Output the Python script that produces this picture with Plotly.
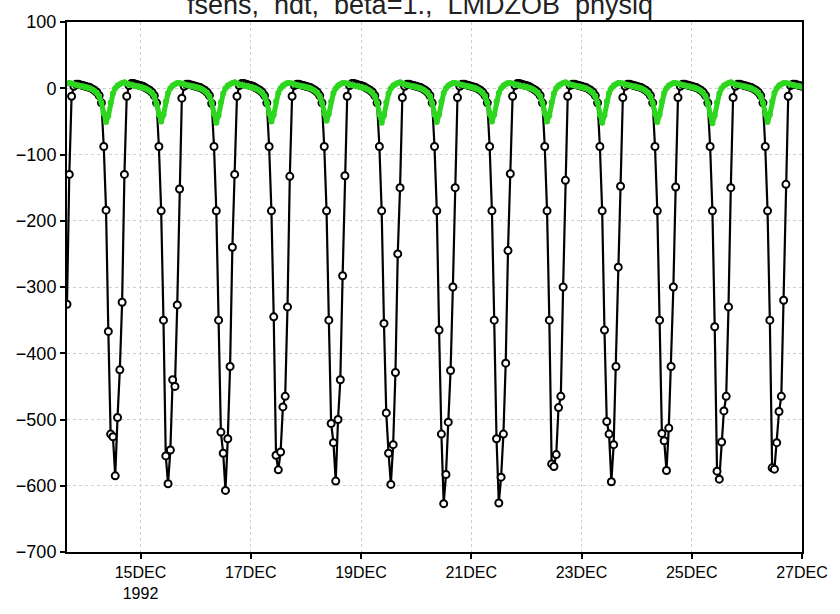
import pandas as pd
import plotly.graph_objects as go

# hourly samples, starting 13 DEC 1992 16:00 (UTC), ending 27 DEC 1992 00:00
start_time = "1992-12-13 16:00"

# black series (fsens, with circles) - rows are days, values for the listed hours
black_flux = [
    # 13 DEC 16h-23h
    -326, -130, -12, 3, 6, 6, 5, 4,
    # 14 DEC 00h-23h
    3, 2, 1, -1, -3, -6, -11, -22, -88, -184, -367, -522, -526, -585, -497, -425, -323, -130, -12, 4, 7, 7, 6, 5,
    # 15 DEC
    4, 3, 1, -1, -3, -6, -11, -22, -88, -185, -350, -555, -597, -546, -440, -450, -327, -152, -15, 3, 6, 6, 5, 4,
    # 16 DEC
    3, 2, 1, -1, -3, -6, -11, -23, -88, -185, -350, -519, -551, -607, -529, -420, -240, -130, -12, 4, 7, 7, 6, 5,
    # 17 DEC
    4, 3, 1, -1, -3, -6, -11, -22, -88, -185, -345, -554, -576, -549, -481, -465, -330, -133, -12, 4, 6, 6, 5, 4,
    # 18 DEC
    3, 2, 1, -1, -3, -6, -11, -22, -88, -185, -350, -506, -535, -593, -500, -440, -283, -132, -12, 4, 7, 7, 6, 5,
    # 19 DEC
    4, 3, 1, -1, -3, -6, -11, -22, -88, -185, -355, -490, -551, -598, -538, -429, -250, -150, -14, 3, 6, 6, 5, 4,
    # 20 DEC
    3, 2, 1, -1, -3, -6, -11, -22, -88, -185, -365, -522, -627, -583, -504, -426, -300, -150, -14, 3, 6, 6, 5, 4,
    # 21 DEC
    3, 2, 1, -1, -3, -6, -11, -22, -88, -185, -350, -529, -626, -587, -522, -415, -245, -129, -12, 4, 7, 7, 6, 5,
    # 22 DEC
    4, 3, 1, -1, -3, -6, -11, -22, -88, -185, -350, -567, -571, -553, -482, -465, -300, -139, -12, 4, 6, 6, 5, 4,
    # 23 DEC
    3, 2, 1, -1, -3, -6, -11, -22, -88, -185, -365, -503, -522, -594, -538, -420, -270, -148, -14, 3, 6, 6, 5, 4,
    # 24 DEC
    3, 2, 1, -1, -3, -6, -11, -22, -88, -185, -350, -521, -532, -577, -513, -420, -300, -149, -14, 3, 6, 6, 5, 4,
    # 25 DEC
    3, 2, 1, -1, -3, -6, -11, -22, -88, -185, -360, -578, -590, -534, -487, -465, -330, -150, -14, 3, 6, 6, 5, 4,
    # 26 DEC
    3, 2, 1, -1, -3, -6, -11, -22, -88, -185, -350, -573, -575, -535, -488, -465, -320, -145, -12, 4, 6, 6, 5, 4,
    # 27 DEC 00h
    3,
]

# green series (thick line, small dots)
green_flux = [
    # 13 DEC 16h-23h
    7, 8, 7, 6, 5, 4, 3, 3,
    # 14 DEC
    2, 1, 0, -2, -4, -7, -12, -22, -38, -51, -42, -22, -8, 0, 4, 6, 8, 9, 7, 6, 5, 4, 3, 3,
    # 15 DEC
    2, 1, 0, -2, -4, -7, -12, -24, -40, -50, -40, -20, -7, 0, 4, 6, 8, 8, 7, 6, 5, 4, 3, 3,
    # 16 DEC
    2, 1, 0, -2, -4, -7, -12, -22, -39, -52, -41, -21, -8, 0, 4, 6, 8, 9, 7, 6, 5, 4, 3, 3,
    # 17 DEC
    2, 1, 0, -2, -4, -7, -12, -22, -38, -50, -40, -20, -7, 0, 4, 6, 8, 8, 7, 6, 5, 4, 3, 3,
    # 18 DEC
    2, 1, 0, -2, -4, -7, -12, -22, -38, -49, -39, -20, -7, 0, 4, 6, 8, 8, 7, 6, 5, 4, 3, 3,
    # 19 DEC
    2, 1, 0, -2, -4, -7, -12, -22, -40, -52, -41, -21, -8, 0, 4, 6, 8, 9, 7, 6, 5, 4, 3, 3,
    # 20 DEC
    2, 1, 0, -2, -4, -7, -12, -23, -40, -51, -40, -20, -7, 0, 4, 6, 8, 8, 7, 6, 5, 4, 3, 3,
    # 21 DEC
    2, 1, 0, -2, -4, -7, -12, -22, -39, -50, -40, -20, -7, 0, 4, 6, 8, 8, 7, 6, 5, 4, 3, 3,
    # 22 DEC
    2, 1, 0, -2, -4, -7, -12, -22, -38, -50, -41, -21, -8, 0, 4, 6, 8, 9, 7, 6, 5, 4, 3, 3,
    # 23 DEC
    2, 1, 0, -2, -4, -7, -12, -22, -40, -52, -41, -20, -7, 0, 4, 6, 8, 8, 7, 6, 5, 4, 3, 3,
    # 24 DEC
    2, 1, 0, -2, -4, -7, -12, -22, -39, -51, -40, -20, -7, 0, 4, 6, 8, 8, 7, 6, 5, 4, 3, 3,
    # 25 DEC
    2, 1, 0, -2, -4, -7, -12, -23, -40, -53, -41, -21, -8, 0, 4, 6, 8, 9, 7, 6, 5, 4, 3, 3,
    # 26 DEC
    2, 1, 0, -2, -4, -7, -12, -22, -39, -51, -40, -20, -7, 0, 4, 6, 8, 8, 7, 6, 5, 4, 3, 3,
    # 27 DEC 00h
    2,
]

x_tick_dates = ["1992-12-15", "1992-12-17", "1992-12-19", "1992-12-21",
                "1992-12-23", "1992-12-25", "1992-12-27"]
x_tick_labels = ["15DEC<br>1992", "17DEC", "19DEC", "21DEC", "23DEC", "25DEC", "27DEC"]
y_tick_values = [100, 0, -100, -200, -300, -400, -500, -600, -700]
y_tick_labels = ["100", "0", "\u2212100", "\u2212200", "\u2212300", "\u2212400",
                 "\u2212500", "\u2212600", "\u2212700"]
title_text = "fsens,  hdt,  beta=1.,  LMDZOB  physiq"

times = pd.date_range(start_time, periods=len(black_flux), freq="h")

fig = go.Figure()
fig.add_trace(go.Scatter(
    x=times, y=black_flux, mode="lines+markers",
    line=dict(color="black", width=2.2),
    marker=dict(symbol="circle", size=7, color="white",
                line=dict(color="black", width=2)),
    showlegend=False,
))
fig.add_trace(go.Scatter(
    x=times, y=green_flux, mode="lines+markers",
    line=dict(color="#2ed61f", width=5),
    marker=dict(symbol="circle", size=6, color="#2ed61f"),
    showlegend=False,
))

font_family = "Liberation Sans, Arial, sans-serif"

fig.update_layout(
    width=840, height=614,
    margin=dict(l=67, r=33, t=19, b=43),
    paper_bgcolor="white", plot_bgcolor="white",
    font=dict(family=font_family, color="black"),
    title=dict(text=title_text, x=0.5, xanchor="center", y=0.993,
               yanchor="middle", yref="container",
               font=dict(family=font_family, size=27, color="#222")),
)
fig.update_xaxes(
    type="date",
    range=["1992-12-13 16:00", "1992-12-27 00:00"],
    tickmode="array", tickvals=x_tick_dates, ticktext=x_tick_labels,
    tickfont=dict(size=16, color="black"),
    showline=True, linecolor="black", linewidth=2, mirror=True,
    ticks="outside", ticklen=5, tickwidth=2, tickcolor="black",
    showgrid=True, gridcolor="#cfcfcf", griddash="dot", gridwidth=1,
    zeroline=False,
)
fig.update_yaxes(
    range=[-700, 100],
    tickmode="array", tickvals=y_tick_values, ticktext=y_tick_labels,
    tickfont=dict(size=18, color="black"),
    showline=True, linecolor="black", linewidth=2, mirror=True,
    ticks="outside", ticklen=5, tickwidth=2, tickcolor="black",
    showgrid=True, gridcolor="#cfcfcf", griddash="dot", gridwidth=1,
    zeroline=False,
)

fig.write_html("out.html")
